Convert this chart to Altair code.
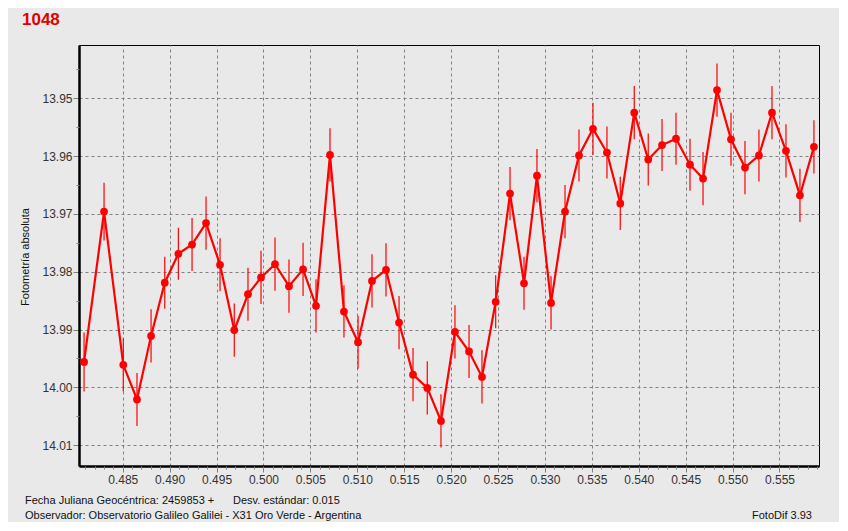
import altair as alt
import pandas as pd

jd = [0.48088, 0.48301, 0.48506, 0.48652, 0.48802, 0.48948, 0.49093, 0.49239, 0.49388,
      0.49537, 0.49689, 0.49835, 0.49974, 0.50123, 0.50272, 0.50422, 0.50560, 0.50709,
      0.50858, 0.51008, 0.51157, 0.51306, 0.51445, 0.51594, 0.51746, 0.51892, 0.52041,
      0.52191, 0.52329, 0.52475, 0.52628, 0.52777, 0.52915, 0.53065, 0.53214, 0.53363,
      0.53512, 0.53661, 0.53803, 0.53952, 0.54101, 0.54248, 0.54397, 0.54546, 0.54685,
      0.54834, 0.54983, 0.55132, 0.55281, 0.55420, 0.55569, 0.55718, 0.55867]
mag = [13.9956, 13.9696, 13.9961, 14.0021, 13.9911, 13.9819, 13.9769, 13.9753, 13.9716,
       13.9788, 13.9901, 13.9839, 13.9810, 13.9787, 13.9825, 13.9796, 13.9859, 13.9598,
       13.9869, 13.9922, 13.9816, 13.9797, 13.9888, 13.9978, 14.0001, 14.0058, 13.9904,
       13.9938, 13.9982, 13.9852, 13.9665, 13.9820, 13.9634, 13.9854, 13.9696, 13.9599,
       13.9553, 13.9594, 13.9682, 13.9525, 13.9606, 13.9581, 13.9570, 13.9615, 13.9639,
       13.9486, 13.9571, 13.9620, 13.9599, 13.9525, 13.9591, 13.9668, 13.9584]
err = [0.0051, 0.0050, 0.0046, 0.0046, 0.0046, 0.0045, 0.0045, 0.0046, 0.0046,
       0.0046, 0.0046, 0.0046, 0.0046, 0.0046, 0.0046, 0.0046, 0.0046, 0.0046,
       0.0045, 0.0046, 0.0046, 0.0046, 0.0046, 0.0046, 0.0046, 0.0046, 0.0046,
       0.0046, 0.0046, 0.0046, 0.0046, 0.0046, 0.0046, 0.0046, 0.0046, 0.0045,
       0.0045, 0.0045, 0.0046, 0.0046, 0.0045, 0.0045, 0.0045, 0.0045, 0.0046,
       0.0046, 0.0046, 0.0046, 0.0045, 0.0046, 0.0046, 0.0046, 0.0046]

x_ticks = [0.485, 0.490, 0.495, 0.500, 0.505, 0.510, 0.515, 0.520, 0.525, 0.530,
           0.535, 0.540, 0.545, 0.550, 0.555]
x_minor = [round(0.481 + 0.001 * i, 3) for i in range(79)]
y_ticks = [13.95, 13.96, 13.97, 13.98, 13.99, 14.00, 14.01]
y_minor = [13.945, 13.955, 13.965, 13.975, 13.985, 13.995, 14.005]

df = pd.DataFrame({"jd": jd, "mag": mag, "err": err})
df["lo"] = df["mag"] - df["err"]
df["hi"] = df["mag"] + df["err"]

RED = "#ff0000"
FONT = "Liberation Sans"
xs = alt.Scale(domain=[0.48034, 0.55921], nice=False, zero=False)
ys = alt.Scale(domain=[13.9408, 14.0136], nice=False, zero=False, reverse=True)

x_major_axis = alt.Axis(values=x_ticks, format=".3f", title=None, grid=True,
                        gridColor="#808080", gridDash=[3, 3], gridWidth=1,
                        domainColor="black", domainWidth=2.5, tickColor="#808080",
                        tickSize=6, labelPadding=2, labelFont=FONT, labelFontSize=12,
                        labelColor="#333333", orient="bottom")
y_major_axis = alt.Axis(values=y_ticks, format=".2f", title=None, grid=True,
                        gridColor="#808080", gridDash=[3, 3], gridWidth=1,
                        domainColor="black", domainWidth=2.5, tickColor="#808080",
                        tickSize=6, labelPadding=1, labelFont=FONT, labelFontSize=12,
                        labelColor="#333333", orient="left")
x_minor_axis = alt.Axis(values=x_minor, labels=False, title=None, grid=False,
                        domain=False, tickColor="#808080", tickSize=3, orient="bottom")
y_minor_axis = alt.Axis(values=y_minor, labels=False, title=None, grid=False,
                        domain=False, tickColor="#808080", tickSize=3, orient="left")

base = alt.Chart(df)

bars = base.mark_rule(color=RED, strokeWidth=1.2).encode(
    x=alt.X("jd:Q", scale=xs, axis=x_major_axis),
    y=alt.Y("lo:Q", scale=ys, axis=y_major_axis),
    y2="hi:Q",
)
line = base.mark_line(color=RED, strokeWidth=2.2).encode(
    x=alt.X("jd:Q", scale=xs, axis=x_minor_axis),
    y=alt.Y("mag:Q", scale=ys, axis=y_minor_axis),
)
pts = base.mark_circle(color=RED, size=60, opacity=1).encode(
    x=alt.X("jd:Q", scale=xs, axis=None),
    y=alt.Y("mag:Q", scale=ys, axis=None),
)

txt = pd.DataFrame({"t": [0]})
def label(text, x, y, size=11, weight="normal", color="#111111", align="left", angle=0, font=FONT):
    kw = dict(text=text, align=align, baseline="middle", fontSize=size, fontWeight=weight,
              color=color, font=font)
    if angle:
        kw["angle"] = angle
    return alt.Chart(txt).mark_text(**kw).encode(x=alt.value(x), y=alt.value(y))

texts = [
    label("1048", -57, -25, size=17, weight="bold", color="#e00000", font="Liberation Sans"),
    label("Fotometría absoluta", -53, 212, size=11, align="center", angle=270),
    label("Fecha Juliana Geocéntrica: 2459853 +", -54, 456),
    label("Desv. estándar: 0.015", 154, 456),
    label("Observador: Observatorio Galileo Galilei - X31 Oro Verde - Argentina", -54, 471),
    label("FotoDif 3.93", 673, 471),
]

chart = alt.layer(bars, line, pts, *texts).resolve_axis(
    x="independent", y="independent"
).properties(
    width=740, height=421,
    background="#e9e9e9",
    padding={"left": 71, "top": 37, "right": 20, "bottom": 56},
    autosize=alt.AutoSizeParams(type="none"),
).configure_view(stroke="black", strokeWidth=1, fill="#e9e9e9")

chart.save("out.html", embed_options={"renderer": "svg", "actions": False})
